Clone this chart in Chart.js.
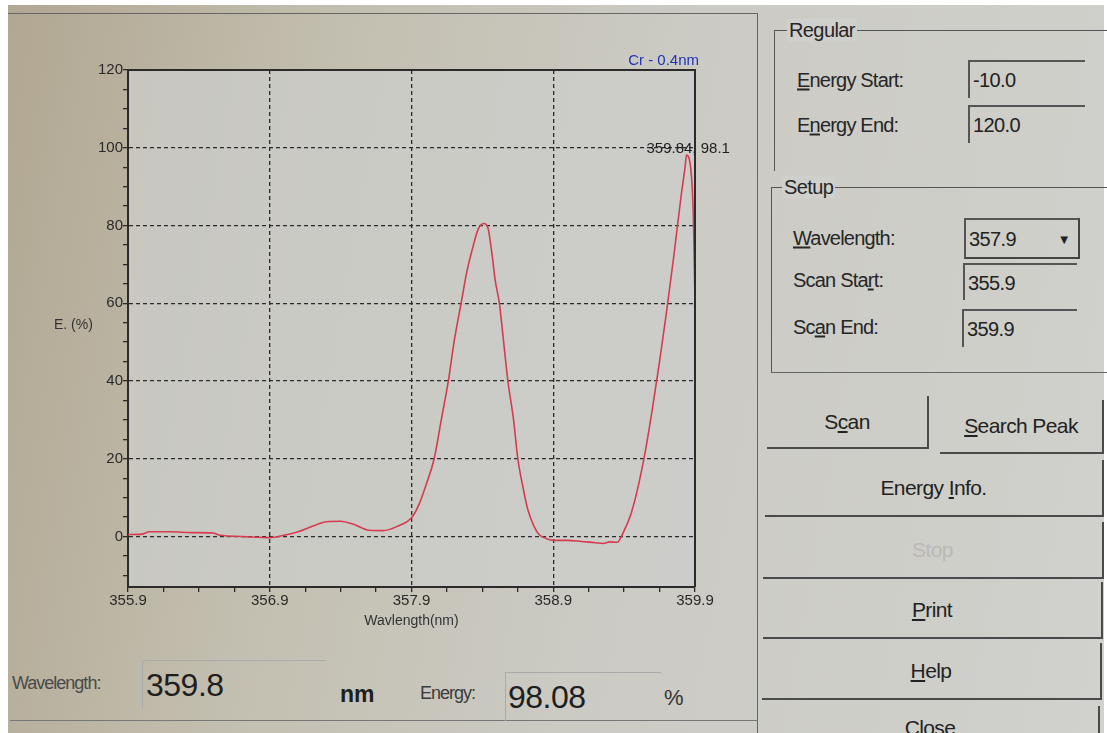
<!DOCTYPE html>
<html>
<head>
<meta charset="utf-8">
<script src="https://cdn.jsdelivr.net/npm/chart.js@4.4.1/dist/chart.umd.min.js"></script>
<style>
  html, body { margin: 0; padding: 0; background: #fff; }
  body { width: 1107px; height: 733px; position: relative; overflow: hidden;
         font-family: "Liberation Sans", Arial, sans-serif; color: #222; }
  #photo { position: absolute; left: 8px; top: 5px; width: 1096px; height: 728px;
           background: linear-gradient(100deg, #b1a792 0%, #c3bfb0 28%, #cbcac3 55%, #d1d1cd 100%); }
  #chartBox { position: absolute; left: 0; top: 0; width: 760px; height: 640px; }
  .abs { position: absolute; white-space: nowrap; }
  .lbl { font-size: 20px; letter-spacing: -0.8px; color: #262626; transform: translateY(-50%); }
  .box { position: absolute; border-top: 2px solid #555; border-left: 2px solid #555; }
  .box span { position: absolute; left: 3px; top: 50%; transform: translateY(-50%);
              font-size: 20px; letter-spacing: -0.6px; color: #222; }
  .grp { position: absolute; border-top: 1.5px solid #555; border-left: 1.5px solid #555; }
  .legend { position: absolute; font-size: 20px; letter-spacing: -0.6px; color: #262626;
            background: #cfcfcb; transform: translateY(-50%); padding: 0 2px; }
  .btn { position: absolute; border-right: 2px solid #4a4a4a; border-bottom: 2px solid #4a4a4a;
         display: flex; align-items: center; justify-content: center;
         font-size: 21px; letter-spacing: -0.6px; color: #222; }
  u { text-decoration-thickness: 1.5px; text-underline-offset: 2px; }
</style>
</head>
<body>
<div id="photo"></div>

<!-- chart panel frame -->
<div class="abs" style="left:8px; top:13px; width:749px; height:720px; border-top:1.5px solid #666; border-right:1.5px solid #666;"></div>
<div class="abs" style="left:10px; top:720px; width:748px; border-top:1.5px solid #777;"></div>

<div id="chartBox"><canvas id="spectrumChart" width="760" height="640"></canvas></div>

<!-- Regular group -->
<div class="grp" style="left:774px; top:30px; width:340px; height:140px;"></div>
<div class="legend" style="left:787px; top:30px;">Regular</div>
<div class="abs lbl" style="left:797px; top:80px;"><u>E</u>nergy Start:</div>
<div class="box" style="left:968px; top:60px; width:115px; height:36px;"><span>-10.0</span></div>
<div class="abs lbl" style="left:797px; top:125px;">E<u>n</u>ergy End:</div>
<div class="box" style="left:968px; top:105px; width:115px; height:36px;"><span>120.0</span></div>

<!-- Setup group -->
<div class="grp" style="left:771px; top:187px; width:340px; height:184px; border-bottom:1.5px solid #666;"></div>
<div class="legend" style="left:782px; top:187px;">Setup</div>
<div class="abs lbl" style="left:793px; top:238px;"><u>W</u>avelength:</div>
<div class="box" style="left:964px; top:218px; width:112px; height:37px; border-right:2px solid #444; border-bottom:2px solid #444;">
  <span>357.9</span>
  <span style="left:auto; right:8px; font-size:13px;">&#9660;</span>
</div>
<div class="abs lbl" style="left:793px; top:280px;">Scan Sta<u>r</u>t:</div>
<div class="box" style="left:963px; top:263px; width:112px; height:35px;"><span>355.9</span></div>
<div class="abs lbl" style="left:793px; top:327px;">Sc<u>a</u>n End:</div>
<div class="box" style="left:962px; top:309px; width:113px; height:36px;"><span>359.9</span></div>

<!-- buttons -->
<div class="btn" style="left:767px; top:396px; width:160px; height:51px;"><span>S<u>c</u>an</span></div>
<div class="btn" style="left:940px; top:400px; width:162px; height:52px;"><span><u>S</u>earch Peak</span></div>
<div class="btn" style="left:765px; top:460px; width:337px; height:55px;"><span>Energy <u>I</u>nfo.</span></div>
<div class="btn" style="left:763px; top:522px; width:339px; height:55px; color:#b9b9b6;"><span>Stop</span></div>
<div class="btn" style="left:763px; top:582px; width:338px; height:55px;"><span><u>P</u>rint</span></div>
<div class="btn" style="left:762px; top:643px; width:338px; height:55px;"><span><u>H</u>elp</span></div>
<div class="btn" style="left:762px; top:706px; width:338px; height:40px; align-items:flex-start; padding-top:10px; box-sizing:border-box;"><span>Close</span></div>

<!-- readout -->
<div class="abs" style="left:12px; top:683px; transform:translateY(-50%); font-size:18px; letter-spacing:-1px; color:#4a4a4a;">Wavelength:</div>
<div class="abs" style="left:142px; top:660px; width:183px; height:48px; border-top:1.5px solid #aaa; border-left:1.5px solid #aaa;"></div>
<div class="abs" style="left:146px; top:685px; transform:translateY(-50%); font-size:32px; letter-spacing:-0.5px; color:#1e1e1e;">359.8</div>
<div class="abs" style="left:340px; top:694px; transform:translateY(-50%); font-size:23px; font-weight:bold; color:#1e1e1e;">nm</div>
<div class="abs" style="left:420px; top:693px; transform:translateY(-50%); font-size:18px; letter-spacing:-1px; color:#3c3c3c;">Energy:</div>
<div class="abs" style="left:505px; top:672px; width:155px; height:48px; border-top:1.5px solid #aaa; border-left:1.5px solid #aaa;"></div>
<div class="abs" style="left:508px; top:697px; transform:translateY(-50%); font-size:32px; letter-spacing:-0.5px; color:#1e1e1e;">98.08</div>
<div class="abs" style="left:664px; top:698px; transform:translateY(-50%); font-size:22px; color:#333;">%</div>

<script>
  // Scan data (wavelength in nm, energy in %)
  const wavelengths = [
    355.90, 356.00, 356.05, 356.20, 356.35, 356.50, 356.55, 356.70, 356.90,
    357.00, 357.10, 357.20, 357.30, 357.40, 357.50, 357.60, 357.70, 357.80,
    357.90, 357.95, 358.00, 358.06, 358.11, 358.16, 358.20, 358.25, 358.29,
    358.33, 358.37, 358.41, 358.44, 358.47, 358.49, 358.52, 358.55, 358.58,
    358.62, 358.65, 358.69, 358.72, 358.76, 358.80, 358.85, 358.90, 359.00,
    359.10, 359.20, 359.25, 359.30, 359.35, 359.40, 359.45, 359.50, 359.55,
    359.60, 359.65, 359.70, 359.75, 359.80, 359.83, 359.84, 359.86, 359.88,
    359.89, 359.90,
  ];
  const energy = [
    0.5, 0.6, 1.2, 1.2, 1.0, 0.9, 0.3, 0.0, -0.3,
    0.3, 1.2, 2.6, 3.8, 3.9, 3.0, 1.6, 1.5, 2.6,
    4.8, 8, 13, 20, 30, 40, 50, 60, 68,
    74, 79, 80.5, 79.3, 72, 66, 60, 50, 40,
    30, 20, 12, 7, 3, 0.5, -0.5, -1.0, -1.0,
    -1.3, -1.6, -1.8, -1.4, -1.5, 1.5, 6, 13, 22,
    33, 45, 58, 72, 87, 95, 98.1, 97, 90,
    80, 60,
  ];

  const xMajorTicks = [355.9, 356.9, 357.9, 358.9, 359.9];
  const yMajorTicks = [0, 20, 40, 60, 80, 100, 120];
  const peak = { x: 359.84, y: 98.1 };
  const chartTitle = "Cr - 0.4nm";
  const yTitle = "E. (%)";
  const xTitle = "Wavlength(nm)";

  const FONT = "'Liberation Sans', Arial, sans-serif";
  const INK = "#2b2b2b";

  /* ── minor ticks: 4 per x division, 4 per y division ── */
  const xTicks = [];
  for (let i = 0; i <= 16; i++) xTicks.push(Math.round((355.9 + i * 0.25) * 100) / 100);
  const yTicks = [];
  for (let v = -10; v <= 120; v += 5) yTicks.push(v);

  const isXMajor = (v) => xMajorTicks.some((m) => Math.abs(m - v) < 1e-6);
  const isYMajor = (v) => yMajorTicks.includes(v);

  /* ── plot background, frame and overlay texts ── */
  const overlay = {
    id: "overlay",
    beforeDraw(chart) {
      const { ctx, chartArea: a } = chart;
      ctx.save();
      ctx.fillStyle = "rgba(204,205,203,0.75)";
      ctx.fillRect(a.left, a.top, a.right - a.left, a.bottom - a.top);
      ctx.restore();
    },
    afterDraw(chart) {
      const { ctx, chartArea: a, scales } = chart;
      ctx.save();
      ctx.strokeStyle = INK;
      ctx.lineWidth = 2;
      ctx.beginPath();
      ctx.moveTo(a.left, a.top);
      ctx.lineTo(a.right, a.top);
      ctx.lineTo(a.right, a.bottom);
      ctx.stroke();

      ctx.fillStyle = "#1f35b5";
      ctx.font = "15px " + FONT;
      ctx.textAlign = "right";
      ctx.textBaseline = "middle";
      ctx.fillText(chartTitle, a.right + 4, 61);

      ctx.fillStyle = "#333";
      ctx.font = "14px " + FONT;
      ctx.textAlign = "left";
      ctx.fillText(yTitle, 54, 325);

      const px = scales.x.getPixelForValue(peak.x);
      ctx.fillStyle = "#1e1e1e";
      ctx.font = "15px " + FONT;
      ctx.textBaseline = "alphabetic";
      ctx.fillText(peak.x.toFixed(2) + ", " + peak.y.toFixed(1), px - 40, scales.y.getPixelForValue(100) + 5);
      ctx.restore();
    },
  };

  new Chart(document.getElementById("spectrumChart").getContext("2d"), {
    type: "line",
    data: {
      datasets: [
        {
          data: wavelengths.map((w, i) => ({ x: w, y: energy[i] })),
          borderColor: "#d63b4e",
          borderWidth: 1.6,
          pointRadius: 0,
          cubicInterpolationMode: "monotone",
          fill: false,
        },
      ],
    },
    options: {
      responsive: false,
      animation: false,
      devicePixelRatio: 1,
      layout: { padding: { left: 0, top: 70, right: 65, bottom: 0 } },
      scales: {
        x: {
          type: "linear",
          min: 355.9,
          max: 359.9,
          afterBuildTicks: (s) => { s.ticks = xTicks.map((v) => ({ value: v })); },
          afterFit: (s) => { s.height = 53; },
          ticks: {
            autoSkip: false,
            maxRotation: 0,
            padding: 0,
            color: "#2a2a2a",
            font: { family: FONT, size: 15 },
            callback: (v) => (isXMajor(v) ? v.toFixed(1) : ""),
          },
          grid: {
            color: (c) => (c.tick && isXMajor(c.tick.value) && c.index > 0 && c.index < xTicks.length - 1 ? INK : "transparent"),
            lineWidth: 1.3,
            tickColor: INK,
            tickLength: 5,
          },
          border: { color: INK, width: 2, dash: [4, 3] },
          title: {
            display: true,
            text: xTitle,
            color: "#333",
            font: { family: FONT, size: 14 },
            padding: { top: 0, bottom: 10 },
          },
        },
        y: {
          min: -13,
          max: 120,
          afterBuildTicks: (s) => { s.ticks = yTicks.map((v) => ({ value: v })); },
          afterFit: (s) => { s.width = 128; },
          ticks: {
            autoSkip: false,
            padding: 0,
            color: "#2a2a2a",
            font: { family: FONT, size: 15 },
            callback: (v) => (isYMajor(v) ? String(v) : ""),
          },
          grid: {
            color: (c) => (c.tick && isYMajor(c.tick.value) && c.tick.value < 120 ? INK : "transparent"),
            lineWidth: 1.3,
            tickColor: INK,
            tickLength: 5,
          },
          border: { color: INK, width: 2, dash: [4, 3] },
        },
      },
      plugins: {
        legend: { display: false },
        tooltip: { enabled: false },
      },
    },
    plugins: [overlay],
  });
</script>
</body>
</html>
